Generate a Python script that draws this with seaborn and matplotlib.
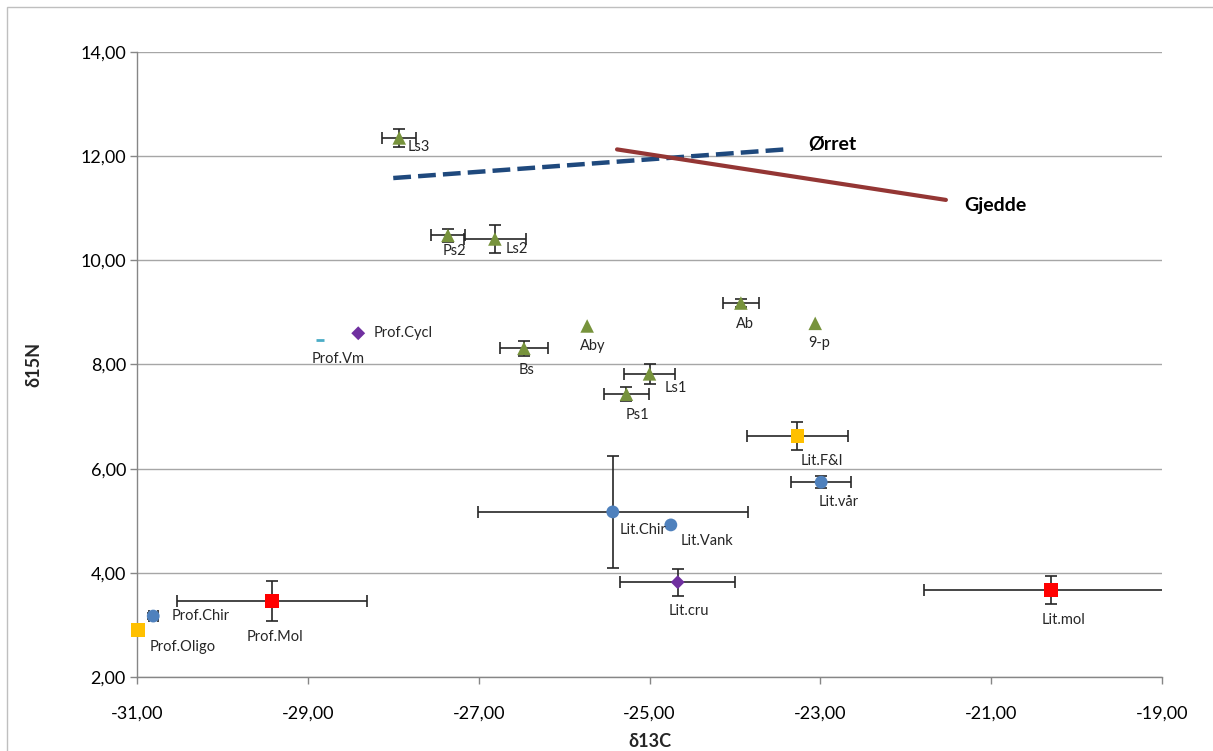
import matplotlib
matplotlib.use("Agg")
import matplotlib.pyplot as plt
from matplotlib.ticker import FuncFormatter, FixedLocator
from matplotlib.patches import Rectangle
from matplotlib.collections import PathCollection
import seaborn as sns
import pandas as pd

# --- data -----------------------------------------------------------------
labels = ["Ls3", "Ps2", "Ls2", "Bs", "Aby", "Ls1", "Ps1", "Ab", "9-p",
          "Prof.Chir", "Lit.Chir", "Lit.Vank", "Lit.vår",
          "Prof.Cycl", "Lit.cru",
          "Prof.Mol", "Lit.mol",
          "Prof.Oligo", "Lit.F&I",
          "Prof.Vm"]
groups = ["fisk"] * 9 + ["chir"] * 4 + ["cycl"] * 2 + ["mol"] * 2 + ["oligo"] * 2 + ["vm"]
d13c = [-27.93, -27.36, -26.81, -26.47, -25.73, -25.00, -25.27, -23.93, -23.06,
        -30.81, -25.43, -24.75, -22.99,
        -28.41, -24.67,
        -29.42, -20.30,
        -30.99, -23.27,
        -28.86]
d15n = [12.35, 10.48, 10.41, 8.31, 8.74, 7.82, 7.43, 9.18, 8.79,
        3.17, 5.17, 4.92, 5.74,
        8.60, 3.82,
        3.46, 3.67,
        2.90, 6.63,
        8.47]
sd_c = [0.20, 0.20, 0.36, 0.28, 0.0, 0.30, 0.26, 0.21, 0.0,
        0.05, 1.58, 0.0, 0.35,
        0.0, 0.67,
        1.11, 1.49,
        0.0, 0.59,
        0.0]
sd_n = [0.17, 0.13, 0.27, 0.15, 0.0, 0.19, 0.14, 0.08, 0.0,
        0.05, 1.07, 0.0, 0.12,
        0.0, 0.26,
        0.38, 0.26,
        0.0, 0.27,
        0.0]

orret_c = [-28.00, -23.41]
orret_n = [11.58, 12.13]
gjedde_c = [-25.38, -21.53]
gjedde_n = [12.13, 11.16]

x_ticks = [-31, -29, -27, -25, -23, -21, -19]
y_ticks = [2, 4, 6, 8, 10, 12, 14]

# --- styling ----------------------------------------------------------------
palette = {"fisk": "#77933C", "chir": "#4F81BD", "cycl": "#7030A0",
           "mol": "#FF0000", "oligo": "#FFC000", "vm": "#4BACC6"}
markers = {"fisk": "^", "chir": "o", "cycl": "D", "mol": "s", "oligo": "s"}
sizes = {"fisk": 95, "chir": 85, "cycl": 50, "mol": 95, "oligo": 95}

# label offsets in pixels (dx, dy, horizontal alignment)
label_pos = {
    "Ls3": (8, -9, "left"), "Ps2": (7, -16, "center"), "Ls2": (11, -10, "left"),
    "Bs": (3, -22, "center"), "Aby": (6, -20, "center"), "Ls1": (15, -14, "left"),
    "Ps1": (11, -21, "center"), "Ab": (4, -21, "center"), "9-p": (4, -20, "center"),
    "Prof.Chir": (18, 0, "left"), "Lit.Chir": (30, -18, "center"),
    "Lit.Vank": (36, -16, "center"), "Lit.vår": (17, -20, "center"),
    "Prof.Cycl": (15, 0, "left"), "Lit.cru": (11, -29, "center"),
    "Prof.Mol": (3, -36, "center"), "Lit.mol": (13, -30, "center"),
    "Prof.Oligo": (12, -17, "left"), "Lit.F&I": (25, -25, "center"),
    "Prof.Vm": (18, -19, "center"),
}

sns.set_theme(style="white")
plt.rcParams["font.family"] = ["Lato", "DejaVu Sans"]

fig = plt.figure(figsize=(12.13, 7.51), dpi=100)
ax = fig.add_axes([137 / 1213, 1 - 677 / 751, 1025 / 1213, 625 / 751])

fig.patches.append(Rectangle((7 / 1213, -0.05), 1.2, 1 - 7 / 751 + 0.05,
                             transform=fig.transFigure, fill=False,
                             edgecolor="#BFBFBF", linewidth=1.0, zorder=0))

df = pd.DataFrame({"label": labels, "group": groups, "d13c": d13c, "d15n": d15n,
                   "sd_c": sd_c, "sd_n": sd_n})

# error bars (clipped to the plot area)
eb = df[(df.sd_c > 0) | (df.sd_n > 0)]
ax.errorbar(eb.d13c, eb.d15n, xerr=eb.sd_c, yerr=eb.sd_n, fmt="none",
            ecolor="#262626", elinewidth=1.2, capsize=4, capthick=1.2, zorder=3)

# trend lines
lines = pd.DataFrame({
    "d13c": orret_c + gjedde_c,
    "d15n": orret_n + gjedde_n,
    "art": ["Ørret"] * 2 + ["Gjedde"] * 2,
})
sns.lineplot(data=lines[lines.art == "Ørret"], x="d13c", y="d15n", ax=ax,
             color="#1F497D", linewidth=3.2, dashes=False, zorder=2)
ax.lines[-1].set_dashes([4.0, 1.6])
sns.lineplot(data=lines[lines.art == "Gjedde"], x="d13c", y="d15n", ax=ax,
             color="#943634", linewidth=3.0, zorder=2)

# point markers
filled = df[df.group != "vm"]
for g, sub in filled.groupby("group", sort=False):
    sns.scatterplot(data=sub, x="d13c", y="d15n", ax=ax, marker=markers[g],
                    color=palette[g], s=sizes[g], edgecolor="none",
                    linewidth=0, zorder=4, legend=False)
vm = df[df.group == "vm"]
ax.scatter(vm.d13c, vm.d15n, marker="_", color=palette["vm"], s=40,
           linewidths=2, zorder=4)
for coll in ax.collections:
    if isinstance(coll, PathCollection):
        coll.set_clip_on(False)

for lab, x, y in zip(labels, d13c, d15n):
    dx, dy, ha = label_pos[lab]
    ax.annotate(lab, (x, y), xytext=(dx, dy), textcoords="offset pixels",
                ha=ha, va="center", fontsize=10.5, color="#262626", zorder=5)

ax.text(-23.14, 12.22, "Ørret", fontsize=14, fontweight="bold", color="black",
        ha="left", va="center")
ax.text(-21.32, 11.06, "Gjedde", fontsize=14, fontweight="bold", color="black",
        ha="left", va="center")

# axes
ax.set_xlim(-31, -19)
ax.set_ylim(2, 14)
ax.xaxis.set_major_locator(FixedLocator(x_ticks))
ax.yaxis.set_major_locator(FixedLocator(y_ticks))
fmt = FuncFormatter(lambda v, p: f"{v:.2f}".replace(".", ","))
ax.xaxis.set_major_formatter(fmt)
ax.yaxis.set_major_formatter(fmt)
ax.tick_params(axis="both", which="major", direction="out", length=5, width=1,
               color="#868686", labelsize=13, labelcolor="black",
               bottom=True, left=True)
ax.tick_params(axis="x", pad=15.5)
ax.tick_params(axis="y", pad=3)
ax.grid(axis="y", color="#A6A6A6", linewidth=1.0)
ax.grid(axis="x", visible=False)
ax.set_axisbelow(True)
for side in ("top", "right"):
    ax.spines[side].set_visible(False)
for side in ("left", "bottom"):
    ax.spines[side].set_color("#868686")
    ax.spines[side].set_linewidth(1.0)

ax.set_xlabel("δ13C", fontsize=13, fontweight="bold", labelpad=8)
ax.set_ylabel("δ15N", fontsize=13, fontweight="bold", labelpad=27)

fig.savefig("out.png", dpi=100)
